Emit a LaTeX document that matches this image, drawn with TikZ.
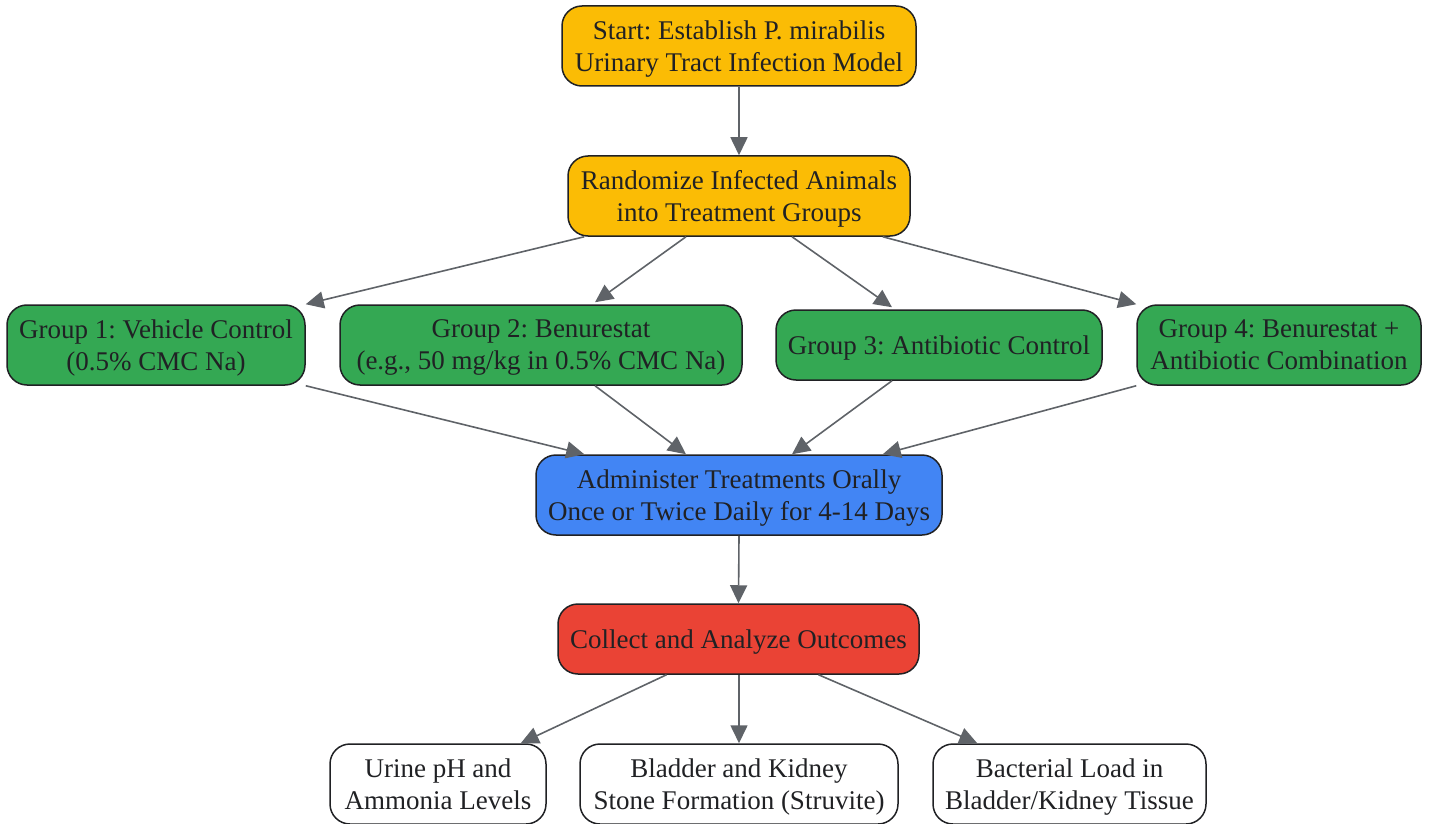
\documentclass[tikz,border=0pt]{standalone}
\usepackage{fontspec}
\setmainfont{Liberation Serif}
\frenchspacing
\usetikzlibrary{arrows.meta,calc}
\definecolor{cyellow}{HTML}{FBBC05}
\definecolor{cgreen}{HTML}{34A853}
\definecolor{cblue}{HTML}{4285F4}
\definecolor{cred}{HTML}{EA4335}
\definecolor{ctext}{HTML}{202124}
\definecolor{carrow}{HTML}{5F6368}
\tikzset{
  box/.style={draw=ctext, line width=1.5pt, rounded corners=20pt, align=center,
    inner sep=0pt, text=ctext, text depth=-3.5pt, font=\fontsize{27}{32}\selectfont},
  conn/.style={draw=carrow, line width=1.6pt, -{Triangle[length=18pt,width=17pt]}},
}
\begin{document}
\begin{tikzpicture}[x=1pt,y=-1pt]
\useasboundingbox (0,0) rectangle (1430,824);
\node[box, fill=cyellow, minimum width=354pt, minimum height=80pt] (start) at (739,46) {Start: Establish P. mirabilis\\Urinary Tract Infection Model};
\node[box, fill=cyellow, minimum width=342pt, minimum height=80pt] (rand) at (739,196) {Randomize Infected Animals\\into Treatment Groups};
\node[box, fill=cgreen, minimum width=298pt, minimum height=80pt] (g1) at (156,345) {Group 1: Vehicle Control\\(0.5\% CMC Na)};
\node[box, fill=cgreen, minimum width=402pt, minimum height=80pt] (g2) at (541,345) {Group 2: Benurestat\\(e.g., 50 mg/kg in 0.5\% CMC Na)};
\node[box, fill=cgreen, minimum width=326pt, minimum height=70pt] (g3) at (939,345) {Group 3: Antibiotic Control};
\node[box, fill=cgreen, minimum width=284pt, minimum height=80pt] (g4) at (1279,345) {Group 4: Benurestat +\\Antibiotic Combination};
\node[box, fill=cblue, minimum width=406pt, minimum height=80pt] (admin) at (739,495) {Administer Treatments Orally\\Once or Twice Daily for 4-14 Days};
\node[box, fill=cred, minimum width=361pt, minimum height=70pt] (collect) at (738.5,639) {Collect and Analyze Outcomes};
\node[box, fill=white, minimum width=216pt, minimum height=80pt] (o1) at (438,784) {Urine pH and\\Ammonia Levels};
\node[box, fill=white, minimum width=318pt, minimum height=80pt] (o2) at (739,784) {Bladder and Kidney\\Stone Formation (Struvite)};
\node[box, fill=white, minimum width=273pt, minimum height=80pt] (o3) at (1069.5,784) {Bacterial Load in\\Bladder/Kidney Tissue};

\draw[conn] (start.south) -- (rand.north);
\draw[conn] ($(rand.south west)+(17,0)$) -- (g1.north east);
\draw[conn] ($(rand.south)+(-53,0)$) -- ($(g2.north)+(54,-2)$);
\draw[conn] ($(rand.south)+(53,0)$) -- ($(g3.north)+(-47,-2)$);
\draw[conn] ($(rand.south east)+(-28,0)$) -- (g4.north west);
\draw[conn] (g1.south east) -- ($(admin.north west)+(49,0)$);
\draw[conn] ($(g2.south)+(54,0)$) -- ($(admin.north)+(-53,0)$);
\draw[conn] ($(g3.south)+(-47,0)$) -- ($(admin.north)+(53,0)$);
\draw[conn] (g4.south west) -- ($(admin.north east)+(-60,0)$);
\draw[conn] (admin.south) -- (collect.north);
\draw[conn] ($(collect.south)+(-72,0)$) -- ($(o1.north east)+(-26,0)$);
\draw[conn] (collect.south -| o2.north) -- (o2.north);
\draw[conn] ($(collect.south)+(80,0)$) -- ($(o3.north west)+(45,0)$);
\end{tikzpicture}
\end{document}
